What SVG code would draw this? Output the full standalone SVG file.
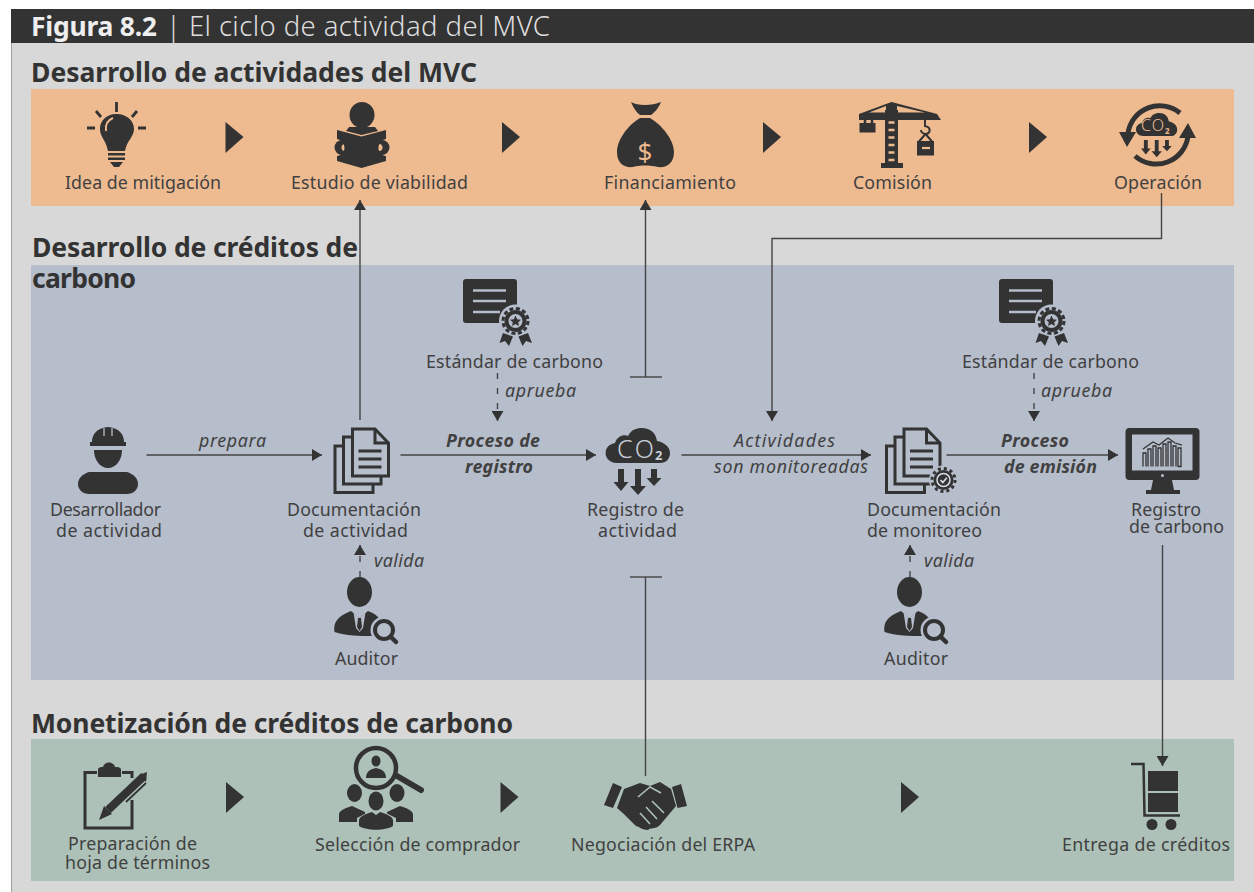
<svg xmlns="http://www.w3.org/2000/svg" xmlns:xlink="http://www.w3.org/1999/xlink" width="1254" height="892" viewBox="0 0 1254 892">
<style>
text{font-family:"Noto Sans","Open Sans","Liberation Sans",sans-serif;fill:#414141;transform:translateY(1px)}
.l{font-size:17.8px}
.i{font-size:17.8px;font-style:italic}
.b{font-size:17.8px;font-style:italic;font-weight:700}
.h{font-size:26.500px;font-weight:700;fill:#333}
.c{fill:none;stroke:#444;stroke-width:1.400}
.d{fill:none;stroke:#444;stroke-width:1.400;stroke-dasharray:6 9}
.k{fill:#333}
.s{fill:none;stroke:#333}
</style>
<defs>
<marker id="ah" markerUnits="userSpaceOnUse" markerWidth="12" markerHeight="12" refX="10" refY="6" orient="auto"><path d="M0 0L10 6L0 12Z" fill="#333"/></marker>
<g id="tri"><path d="M0 0L18 15L0 31Z" fill="#333"/></g>
<g id="cloud">
<path class="k" d="M617 463C608 463 605 456 605.700 452C606 447 610 444 615 443C617 436 624 434 628 436C631 430 636 428 642 428C650 428 656 433 657 441C664 442 670 447 670 453C670 459 666 463 660 463Z"/>
<path class="k" d="M618 469H624V482H628.500L621 491L613.500 482H618ZM635 469H641V486H646L638 495L630 486H635ZM651 469H657V478H661.500L654 486L646.500 478H651Z"/>
</g>
<g id="cert">
<rect class="k" x="463" y="279" width="54" height="44" rx="3"/>
<path d="M473 290.500H506M473 301H506M473 312H500" fill="none" stroke="#b6bdcb" stroke-width="2.500"/>
<circle cx="515.500" cy="321" r="16.500" fill="#b6bdcb"/>
<circle cx="515.500" cy="321" r="11" fill="#333"/>
<circle cx="515.500" cy="321" r="12.500" fill="none" stroke="#333" stroke-width="3" stroke-dasharray="4 2.540"/>
<circle cx="515.500" cy="321" r="7" fill="#b6bdcb"/>
<path class="k" d="M515.500 315.500L517.200 319.300L521 319.700L518.200 322.300L519 326L515.500 324.100L512 326L512.800 322.300L510 319.700L513.800 319.300Z"/>
<path class="k" d="M503 333L513 336.500L509 346L505 341L499.500 343ZM528 333L518.500 336.500L522.500 346L526 341L532 343Z"/>
</g>
<g id="auditor">
<ellipse class="k" cx="359.500" cy="592" rx="12.500" ry="15"/>
<path class="k" d="M334.500 632C333 622 338 616 351 611L359.500 618L368 611C374 613 378 616 380 620L372 636C360 636 346 636 334.500 632Z"/>
<path d="M353.500 612.500L359.500 618L365.500 612.500L363 628L359.500 632L356 628Z" fill="#b6bdcb"/>
<path class="k" d="M358 618H361L362 627L359.500 631L357 627Z"/>
<circle cx="384" cy="630" r="13.500" fill="#b6bdcb"/>
<circle cx="384" cy="630" r="9" fill="none" stroke="#333" stroke-width="4"/>
<path d="M390.500 636.500L396 642" stroke="#333" stroke-width="4.500" stroke-linecap="round"/>
</g>
<g id="docs">
<path d="M335 446H373V492.500H335Z" fill="#b6bdcb" stroke="#333" stroke-width="3"/>
<path d="M343.500 437H381V484H343.500Z" fill="#b6bdcb" stroke="#333" stroke-width="3"/>
<path d="M352.500 429H375L388.500 443V476H352.500Z" fill="#b6bdcb" stroke="#333" stroke-width="3"/>
<path d="M375 429V443H388.500" fill="none" stroke="#333" stroke-width="3"/>
<path d="M358.500 451H381.500M358.500 459H381.500M358.500 467H381.500" fill="none" stroke="#333" stroke-width="3"/>
</g>
</defs>

<rect width="1254" height="892" fill="#fff"/>
<rect x="11" y="9" width="1243" height="883" fill="#d8d8d8"/>
<rect x="11" y="9" width="1" height="883" fill="#a0a0a0"/>
<rect x="11" y="9" width="1243" height="34" fill="#333"/>
<text x="31" y="35" style="font-size:26.500px;font-weight:700;fill:#eee" textLength="126">Figura 8.2</text>
<text x="166" y="35" style="font-size:27.500px;font-weight:300;fill:#ddd" textLength="384">| El ciclo de actividad del MVC</text>

<g id="panels">
<rect x="31" y="89" width="1203" height="117" fill="#eeba90"/>
<rect x="31" y="265" width="1203" height="415" fill="#b6bdcb"/>
<rect x="31" y="739" width="1203" height="142" fill="#adc1b8"/>
</g>
<g id="headings">
<text class="h" x="31" y="81" textLength="446">Desarrollo de actividades del MVC</text>
<text class="h" x="32" y="256" textLength="326">Desarrollo de créditos de</text>
<text class="h" x="32" y="287" textLength="104">carbono</text>
<text class="h" x="31" y="732" textLength="482">Monetización de créditos de carbono</text>
</g>

<g id="connectors">
<path class="c" d="M360 420V200" marker-end="url(#ah)"/>
<path class="c" d="M645.500 377V200" marker-end="url(#ah)"/>
<path class="c" d="M630 377H662"/>
<path class="c" d="M630 577H662"/>
<path class="c" d="M645.500 577V776"/>
<path class="c" d="M1161.500 193V238.500H772V421" marker-end="url(#ah)"/>
<path class="c" d="M146.500 455H322" marker-end="url(#ah)"/>
<path class="c" d="M400.500 455H596" marker-end="url(#ah)"/>
<path class="c" d="M681.500 455H871" marker-end="url(#ah)"/>
<path class="c" d="M946.500 455H1118" marker-end="url(#ah)"/>
<path class="d" d="M497.500 373V421" marker-end="url(#ah)"/>
<path class="d" d="M1034 373V421" marker-end="url(#ah)"/>
<path class="d" d="M360 577V545" marker-end="url(#ah)"/>
<path class="d" d="M910 577V545" marker-end="url(#ah)"/>
<path class="c" d="M1162.500 545V766" marker-end="url(#ah)"/>
</g>

<g id="flow-arrows">
<use href="#tri" x="225.500" y="122"/>
<use href="#tri" x="502" y="122"/>
<use href="#tri" x="763" y="122"/>
<use href="#tri" x="1029" y="122"/>
<use href="#tri" x="226" y="782"/>
<use href="#tri" x="500.500" y="782"/>
<use href="#tri" x="901" y="782"/>
</g>

<g id="idea">
<path d="M116.500 102V112M87 128H95M138 128H146M96 111L101 117M137 111L132 117" fill="none" stroke="#333" stroke-width="2.800"/>
<path class="k" d="M116.500 114C106 114 100 121 100 129C100 137 106 140 108 151H125C127 140 134 137 134 129C134 121 127 114 116.500 114Z"/>
<path d="M106 131C105 124 108 120 113 118" fill="none" stroke="#eeba90" stroke-width="2"/>
<path class="k" d="M108 153H125V155.500H108ZM108 157.500H125V160H108ZM110 162H123L119 167H114Z"/>
<text class="l" x="65" y="188" textLength="156">Idea de mitigación</text>
</g>
<g id="estudio">
<ellipse class="k" cx="362" cy="115" rx="12.500" ry="13"/>
<path class="k" d="M349 127H375L378 131L361.500 135L346 131Z"/>
<circle cx="342" cy="147.500" r="7.500" class="k"/><circle cx="382" cy="147.500" r="7.500" class="k"/>
<circle cx="345" cy="147.500" r="3.500" fill="#eeba90"/><circle cx="379" cy="147.500" r="3.500" fill="#eeba90"/>
<path class="k" d="M337 130L361.500 136.500L386 130V139C376 141 376 155 386 156V161L361.500 168L337 161V156C347 155 347 141 337 139Z"/>
<text class="l" x="291" y="188" textLength="177">Estudio de viabilidad</text>
</g>
<g id="financiamiento">
<path class="k" d="M631 102C637 106 652 106 661 102C658 109 654 113 651 115H640C636 112 633 107 631 102Z"/>
<path class="k" d="M640 118C628 125 617 140 617 152C617 164 625 168 633 167C640 165 650 165 658 167C667 168 674 163 674 152C674 140 662 125 650 118Z"/>
<text x="645" y="160" text-anchor="middle" style="font-size:26px;fill:#eeba90">$</text>
<text class="l" x="604" y="188" textLength="132">Financiamiento</text>
</g>
<g id="comision">
<path class="k" d="M859 114L891.500 102L937 114L941 120H859Z"/>
<path d="M869 112.500L886 106V112.500ZM897 106L925 112.500H897Z" fill="#eeba90"/>
<path class="k" d="M885 110H898V163H903V168H881V163H885Z"/>
<path d="M888.500 122.500H894.500M888.500 130H894.500M888.500 137.500H894.500M888.500 145H894.500M888.500 152.500H894.500M888.500 160H894.500" stroke="#eeba90" stroke-width="2.500"/>
<path d="M865 120V124M872 120V124" stroke="#333" stroke-width="2.500"/>
<rect class="k" x="859.500" y="123" width="16" height="9.500"/>
<path class="s" stroke-width="2" d="M925 120V126C931 127 931 133 926 134C923 134 921 132 921 130M925.500 134L919 141.500M925.500 134L932 141.500"/>
<rect class="k" x="917" y="141" width="17" height="14.500"/>
<path d="M922 148H930" stroke="#eeba90" stroke-width="2.200"/>
<text class="l" x="853" y="188" textLength="79">Comisión</text>
</g>
<g id="operacion">
<path class="s" stroke-width="5" d="M1180 113A32 32 0 0 0 1128 133M1135 156A32 32 0 0 0 1188 136"/>
<path class="k" d="M1119 132H1136L1127 147ZM1179 138H1196L1188 123Z"/>
<use href="#cloud" transform="translate(748.400 -169.500) scale(.64 .66)"/>
<text x="1141" y="130" style="font-size:16px;font-weight:300;fill:#eeba90" textLength="23">CO</text>
<text x="1165" y="133" style="font-size:8px;font-weight:700;fill:#eeba90">2</text>
<text class="l" x="1114" y="188" textLength="88">Operación</text>
</g>

<g id="estandar-1">
<use href="#cert"/>
<text class="l" x="426" y="366.500" textLength="177">Estándar de carbono</text>
</g>
<text class="i" x="505" y="396" textLength="71">aprueba</text>
<g id="estandar-2">
<use href="#cert" x="536"/>
<text class="l" x="962" y="366.500" textLength="177">Estándar de carbono</text>
</g>
<text class="i" x="1041" y="396" textLength="71">aprueba</text>

<g id="desarrollador">
<path class="k" d="M92 442C92 434 97 428 108 427C119 428 124 434 124 442H126V446H90V442Z"/>
<path d="M104 428V436M112 428V436" stroke="#b6bdcb" stroke-width="1.300"/>
<path class="k" d="M94 450H122C122 460 116 468 108 468C100 468 94 460 94 450Z"/>
<path class="k" d="M89 472H127C133 474 138 478 138 484C138 490 133 494 127 494H89C83 494 78 490 78 484C78 478 83 474 89 472Z"/>
<text class="l" x="50" y="515" textLength="111">Desarrollador</text>
<text class="l" x="56" y="535.500" textLength="106">de actividad</text>
</g>
<text class="i" x="199" y="445.500" textLength="67">prepara</text>
<g id="doc-actividad">
<use href="#docs"/>
<text class="l" x="287" y="515" textLength="134">Documentación</text>
<text class="l" x="303" y="535.500" textLength="105">de actividad</text>
</g>
<text class="b" x="446" y="445.500" textLength="94">Proceso de</text>
<text class="b" x="465" y="472" textLength="68">registro</text>
<g id="registro-actividad">
<use href="#cloud"/>
<text x="617" y="457" style="font-size:25px;font-weight:300;fill:#c9cfd9" textLength="37">CO</text>
<text x="655" y="459" style="font-size:13px;font-weight:700;fill:#c9cfd9">2</text>
<text class="l" x="587" y="515" textLength="97">Registro de</text>
<text class="l" x="598" y="535.500" textLength="79">actividad</text>
</g>
<text class="i" x="734" y="445.500" textLength="101">Actividades</text>
<text class="i" x="714" y="472" textLength="154">son monitoreadas</text>
<g id="doc-monitoreo">
<use href="#docs" x="551.500"/>
<circle cx="943.500" cy="480" r="14.500" fill="#b6bdcb"/>
<circle cx="943.500" cy="480" r="10" class="k"/>
<circle cx="943.500" cy="480" r="11.500" fill="none" stroke="#333" stroke-width="3" stroke-dasharray="3 3.020"/>
<circle cx="943.500" cy="480" r="6.500" fill="none" stroke="#d8dce3" stroke-width="1.500"/>
<path d="M940.500 480L942.800 482.500L946.800 477.800" fill="none" stroke="#d8dce3" stroke-width="1.700"/>
<text class="l" x="867" y="515" textLength="134">Documentación</text>
<text class="l" x="867" y="535.500" textLength="115">de monitoreo</text>
</g>
<text class="b" x="1001" y="445.500" textLength="68">Proceso</text>
<text class="b" x="1004" y="472" textLength="93">de emisión</text>
<g id="registro-carbono">
<rect class="k" x="1125.500" y="428" width="74" height="52" rx="4"/>
<rect x="1132" y="434.500" width="60.500" height="36" fill="#b6bdcb"/>
<circle cx="1162.500" cy="475.500" r="1.500" fill="#b6bdcb"/>
<path class="k" d="M1153 480H1172L1174 490H1180V494H1146V490H1151Z"/>
<path class="s" stroke-width="1.300" d="M1143 466.500V453H1146V466.500M1148 466.500V449H1151V466.500M1153 466.500V446H1156V466.500M1158 466.500V448H1161V466.500M1163 466.500V444H1166V466.500M1168 466.500V442H1171V466.500M1173 466.500V446H1176V466.500M1178 466.500V448H1181V466.500Z"/>
<path class="s" stroke-width="1.300" d="M1143 449L1153 442L1159 445L1168 438L1175 443L1182 445"/>
<text class="l" x="1131" y="515" textLength="70">Registro</text>
<text class="l" x="1129" y="531.500" textLength="95">de carbono</text>
</g>
<g id="auditor-1">
<use href="#auditor"/>
<text class="l" x="335" y="664" textLength="63">Auditor</text>
</g>
<text class="i" x="374" y="565.500" textLength="50">valida</text>
<g id="auditor-2">
<use href="#auditor" x="550"/>
<text class="l" x="884" y="664" textLength="64">Auditor</text>
</g>
<text class="i" x="924" y="565.500" textLength="50">valida</text>

<g id="preparacion">
<path class="s" stroke-width="3" d="M97 772.500H85V828H132V800M122 772.500H132V778"/>
<path class="k" d="M98 777V770C98 767 101 767 103 767C104 761 114 761 115 767C118 767 121 767 121 770V777Z"/>
<path d="M144 776L108 810" stroke="#333" stroke-width="8"/>
<path class="k" d="M104 806L112 814L99 820ZM139 775L147 772L146 782Z"/>
<path d="M146 783L126 802" stroke="#333" stroke-width="1.800"/>
<text class="l" x="68" y="849" textLength="129">Preparación de</text>
<text class="l" x="65" y="868" textLength="145">hoja de términos</text>
</g>
<g id="seleccion">
<circle cx="376" cy="768" r="20" fill="none" stroke="#333" stroke-width="4.500"/>
<path d="M397 776L421 790" stroke="#333" stroke-width="6" stroke-linecap="round"/>
<ellipse class="k" cx="376" cy="761" rx="4.500" ry="5.500"/>
<path class="k" d="M366 778C366 771 371 769 376 768C381 769 386 771 386 778Z"/>
<ellipse class="k" cx="354.500" cy="793" rx="7.500" ry="9"/>
<ellipse class="k" cx="397" cy="793" rx="7.500" ry="9"/>
<path class="k" d="M339 822V814C340 810 346 808 352 806L365 812V822ZM413 822V814C412 810 406 808 400 806L387 812V822Z"/>
<path d="M357 830V818L376 808L396 818V830Z" fill="#adc1b8"/>
<ellipse class="k" cx="376" cy="801" rx="7.500" ry="9.500"/>
<path class="k" d="M359 826V820C360 816 366 814 372 812L376 815L380 812C386 814 392 816 393 820V826C385 831 367 831 359 826Z"/>
<text class="l" x="315" y="850" textLength="205">Selección de comprador</text>
</g>
<g id="negociacion">
<path class="k" d="M613 783L622 787L613 808L604 805ZM672 787L681 784L687 806L677.500 808Z"/>
<path class="k" d="M624 789L640 783L650 786L660 782L671 789L676 806L660 825C655 830 650 827 648 830C642 830 640 827 636 826C630 820 622 812 617 808Z"/>
<path d="M638 797L650 787L661 793M652 801L664 813M646 807L657 819M640 813L650 824" fill="none" stroke="#adc1b8" stroke-width="1.600"/>
<text class="l" x="571" y="850" textLength="184">Negociación del ERPA</text>
</g>
<g id="entrega">
<path class="s" stroke-width="2.500" d="M1131 764H1143.500L1144.500 815.500H1180"/>
<rect class="k" x="1148" y="771" width="30" height="20"/>
<rect class="k" x="1148" y="793" width="30" height="19"/>
<circle class="k" cx="1152" cy="824.500" r="5.500"/><circle class="k" cx="1171" cy="824.500" r="5.500"/>
<text class="l" x="1062" y="850" textLength="168">Entrega de créditos</text>
</g>
</svg>
